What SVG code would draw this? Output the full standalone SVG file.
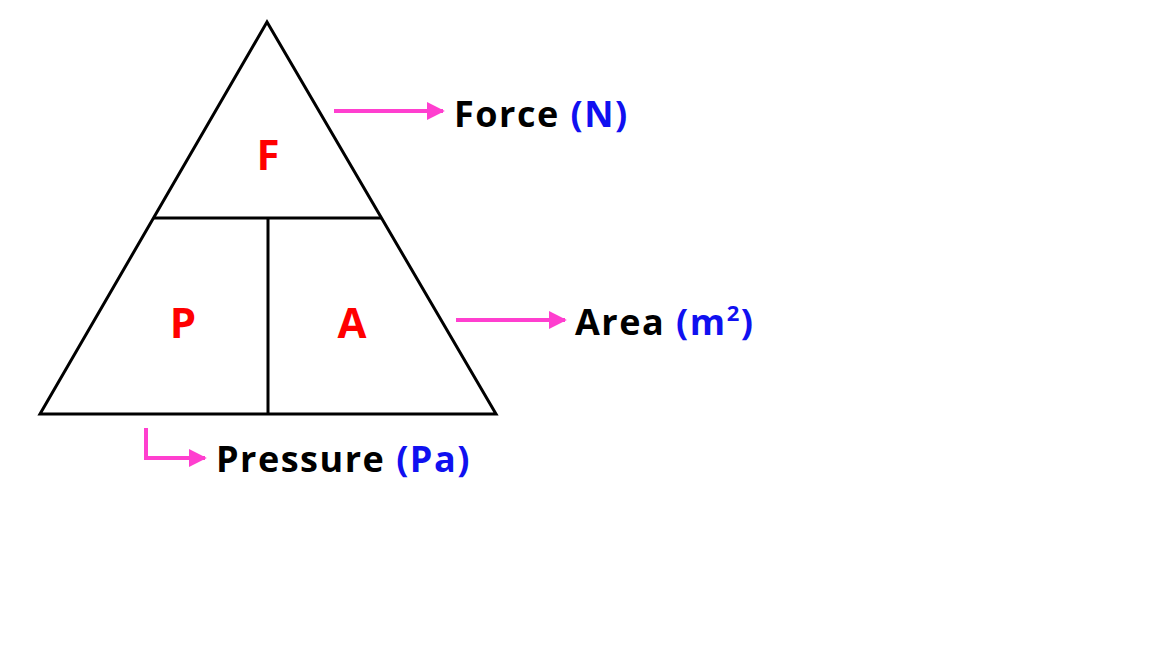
<svg xmlns="http://www.w3.org/2000/svg" width="1156" height="650" viewBox="0 0 1156 650">
<style>
.l{fill:none;stroke:#000;stroke-width:3}
.a{fill:none;stroke:#ff3fcf;stroke-width:4}
.t{font-family:"Open Sans","Liberation Sans",sans-serif;font-weight:bold;font-size:36px;fill:#000;letter-spacing:1.5px}
.u{fill:#1010f0}
.r{font-family:"Open Sans","Liberation Sans",sans-serif;font-weight:bold;font-size:42px;fill:#ff0000;text-anchor:middle}
</style>
<defs><marker id="h" viewBox="0 0 10 10" refX="9" refY="5" markerWidth="4.5" markerHeight="4.5" orient="auto"><path d="M0,0L10,5L0,10z" fill="#ff3fcf"/></marker></defs>
<rect width="1156" height="650" fill="#fff"/>
<g id="triangle">
<path class="l" d="M267,22L40,414H496Z"/>
<path class="l" d="M154,218H381M268,218V414"/>
</g>
<g id="F"><text class="r" x="268" y="170">F</text></g>
<g id="P"><text class="r" x="183" y="338">P</text></g>
<g id="A"><text class="r" x="352" y="338">A</text></g>
<g id="connectors">
<path class="a" d="M334,111H443" marker-end="url(#h)"/>
<path class="a" d="M456,320H565" marker-end="url(#h)"/>
<path class="a" d="M146,428V458H205" marker-end="url(#h)"/>
</g>
<g id="force"><text class="t" x="454" y="127">Force <tspan class="u">(N)</tspan></text></g>
<g id="area"><text class="t" x="575" y="335">Area <tspan class="u">(m<tspan font-size="22" dy="-14">2</tspan><tspan dy="14">)</tspan></tspan></text></g>
<g id="pressure"><text class="t" x="216" y="472">Pressure <tspan class="u">(Pa)</tspan></text></g>
</svg>
